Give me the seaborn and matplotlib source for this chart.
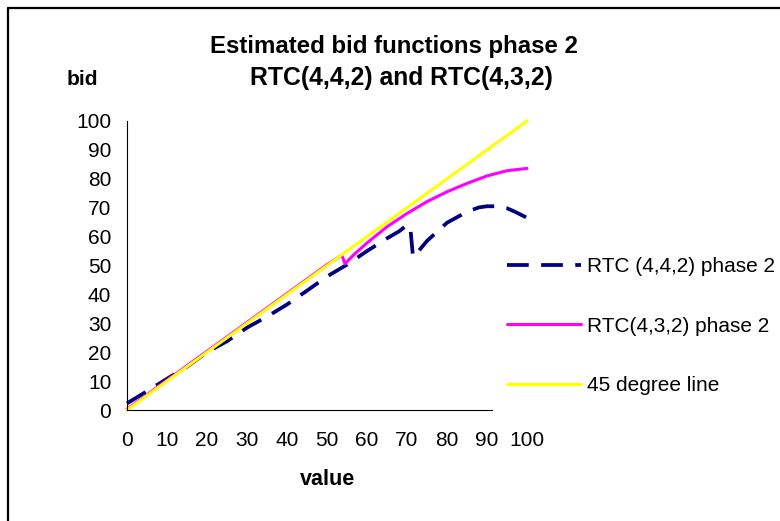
import matplotlib
matplotlib.use("Agg")
import matplotlib.pyplot as plt
from matplotlib.lines import Line2D
import seaborn as sns
import pandas as pd

# ---- data ----
navy_x = [0, 5, 10, 15, 20, 25, 30, 35, 40, 45, 50, 55, 60, 65, 68, 70, 70.8, 71.5,
          72, 75, 80, 85, 88, 90, 92, 95, 97, 100]
navy_y = [2.3, 6.5, 10.8, 15.0, 20.0, 23.8, 28.5, 32.3, 36.5, 41.3, 46.2, 50.3, 55.0,
          59.4, 61.8, 64.0, 63.5, 53.0, 53.5, 58.5, 64.8, 68.6, 70.1, 70.5, 70.5, 69.8,
          68.6, 66.5]

pink_x = [0, 10, 20, 30, 40, 50, 53.7, 54.5, 56.6, 60, 65, 70, 75, 80, 85, 90, 95, 100]
pink_y = [0.3, 10.3, 20.3, 30.3, 40.3, 50.3, 53.6, 50.6, 53.6, 57.8, 63.4, 68.0, 72.1,
          75.5, 78.4, 81.0, 82.8, 83.6]

line45_x = [0, 10, 20, 30, 40, 50, 60, 70, 80, 90, 100]
line45_y = [0, 10, 20, 30, 40, 50, 60, 70, 80, 90, 100]

x_ticks = [0, 10, 20, 30, 40, 50, 60, 70, 80, 90, 100]
y_ticks = [0, 10, 20, 30, 40, 50, 60, 70, 80, 90, 100]

labels = ["RTC (4,4,2) phase 2", "RTC(4,3,2) phase 2", "45 degree line"]
title1 = "Estimated bid functions phase 2"
title2 = "RTC(4,4,2) and RTC(4,3,2)"

# ---- style ----
sns.set_style("white")
plt.rcParams["font.family"] = ["Liberation Sans", "DejaVu Sans"]
plt.rcParams["text.color"] = "black"
plt.rcParams["xtick.color"] = "black"
plt.rcParams["ytick.color"] = "black"

W, H = 780, 521
fig = plt.figure(figsize=(W / 100, H / 100), dpi=100)
ax = fig.add_axes([127 / W, 1 - 410 / H, 400 / W, 289 / H])

df_navy = pd.DataFrame({"x": navy_x, "y": navy_y})
df_pink = pd.DataFrame({"x": pink_x, "y": pink_y})
df_45 = pd.DataFrame({"x": line45_x, "y": line45_y})

sns.lineplot(data=df_navy, x="x", y="y", ax=ax, sort=False, color="#000080",
             linewidth=2.7, dashes=False, label=labels[0], clip_on=False)
ax.lines[-1].set_dashes([5.8, 3.3])
sns.lineplot(data=df_pink, x="x", y="y", ax=ax, sort=False, color="#FF00FF",
             linewidth=2.2, label=labels[1], clip_on=False)
sns.lineplot(data=df_45, x="x", y="y", ax=ax, sort=False, color="#FFFF00",
             linewidth=2.2, label=labels[2], clip_on=False)

ax.set_xlim(0, 100)
ax.set_ylim(0, 100)
ax.set_xticks(x_ticks)
ax.set_yticks(y_ticks)
ax.set_xticklabels([str(v) for v in x_ticks])
ax.set_yticklabels([str(v) for v in y_ticks])
ax.set_xlabel("")
ax.set_ylabel("")

for s in ["top", "right"]:
    ax.spines[s].set_visible(False)
for s in ["left", "bottom"]:
    ax.spines[s].set_color("black")
    ax.spines[s].set_linewidth(0.8)
ax.spines["bottom"].set_bounds(0, 91.2)

ax.tick_params(axis="both", direction="out", length=4.3, width=0.8, color="black",
               labelsize=15, labelcolor="black")
ax.tick_params(axis="y", pad=7)
ax.tick_params(axis="x", pad=11)
ax.xaxis.get_major_ticks()[-1].tick1line.set_visible(False)

handles, labs = ax.get_legend_handles_labels()
ax.get_legend().remove()
fig.legend(handles, labs, loc="center left", bbox_to_anchor=(507 / W, 1 - 326 / H),
           frameon=False, fontsize=15, handlelength=3.55, handletextpad=0.3,
           labelspacing=1.95, borderpad=0, borderaxespad=0)

# titles and axis labels
fig.text(394 / W, 1 - 53.3 / H, title1, ha="center", va="baseline",
         fontsize=17.3, fontweight="bold")
fig.text(401 / W, 1 - 85 / H, title2, ha="center", va="baseline",
         fontsize=17.8, fontweight="bold")
fig.text(66.7 / W, 1 - 85 / H, "bid", ha="left", va="baseline",
         fontsize=15, fontweight="bold")
fig.text(328 / W, 1 - 485 / H, "value", ha="center", va="baseline",
         fontsize=15.5, fontweight="bold")

# outer frame (left and top edges)
fig.add_artist(Line2D([8 / W, 8 / W], [0, 1 - 8 / H], color="black", linewidth=1.6,
                      transform=fig.transFigure))
fig.add_artist(Line2D([8 / W, 1], [1 - 8 / H, 1 - 8 / H], color="black", linewidth=1.6,
                      transform=fig.transFigure))

fig.savefig("out.png", dpi=100)
